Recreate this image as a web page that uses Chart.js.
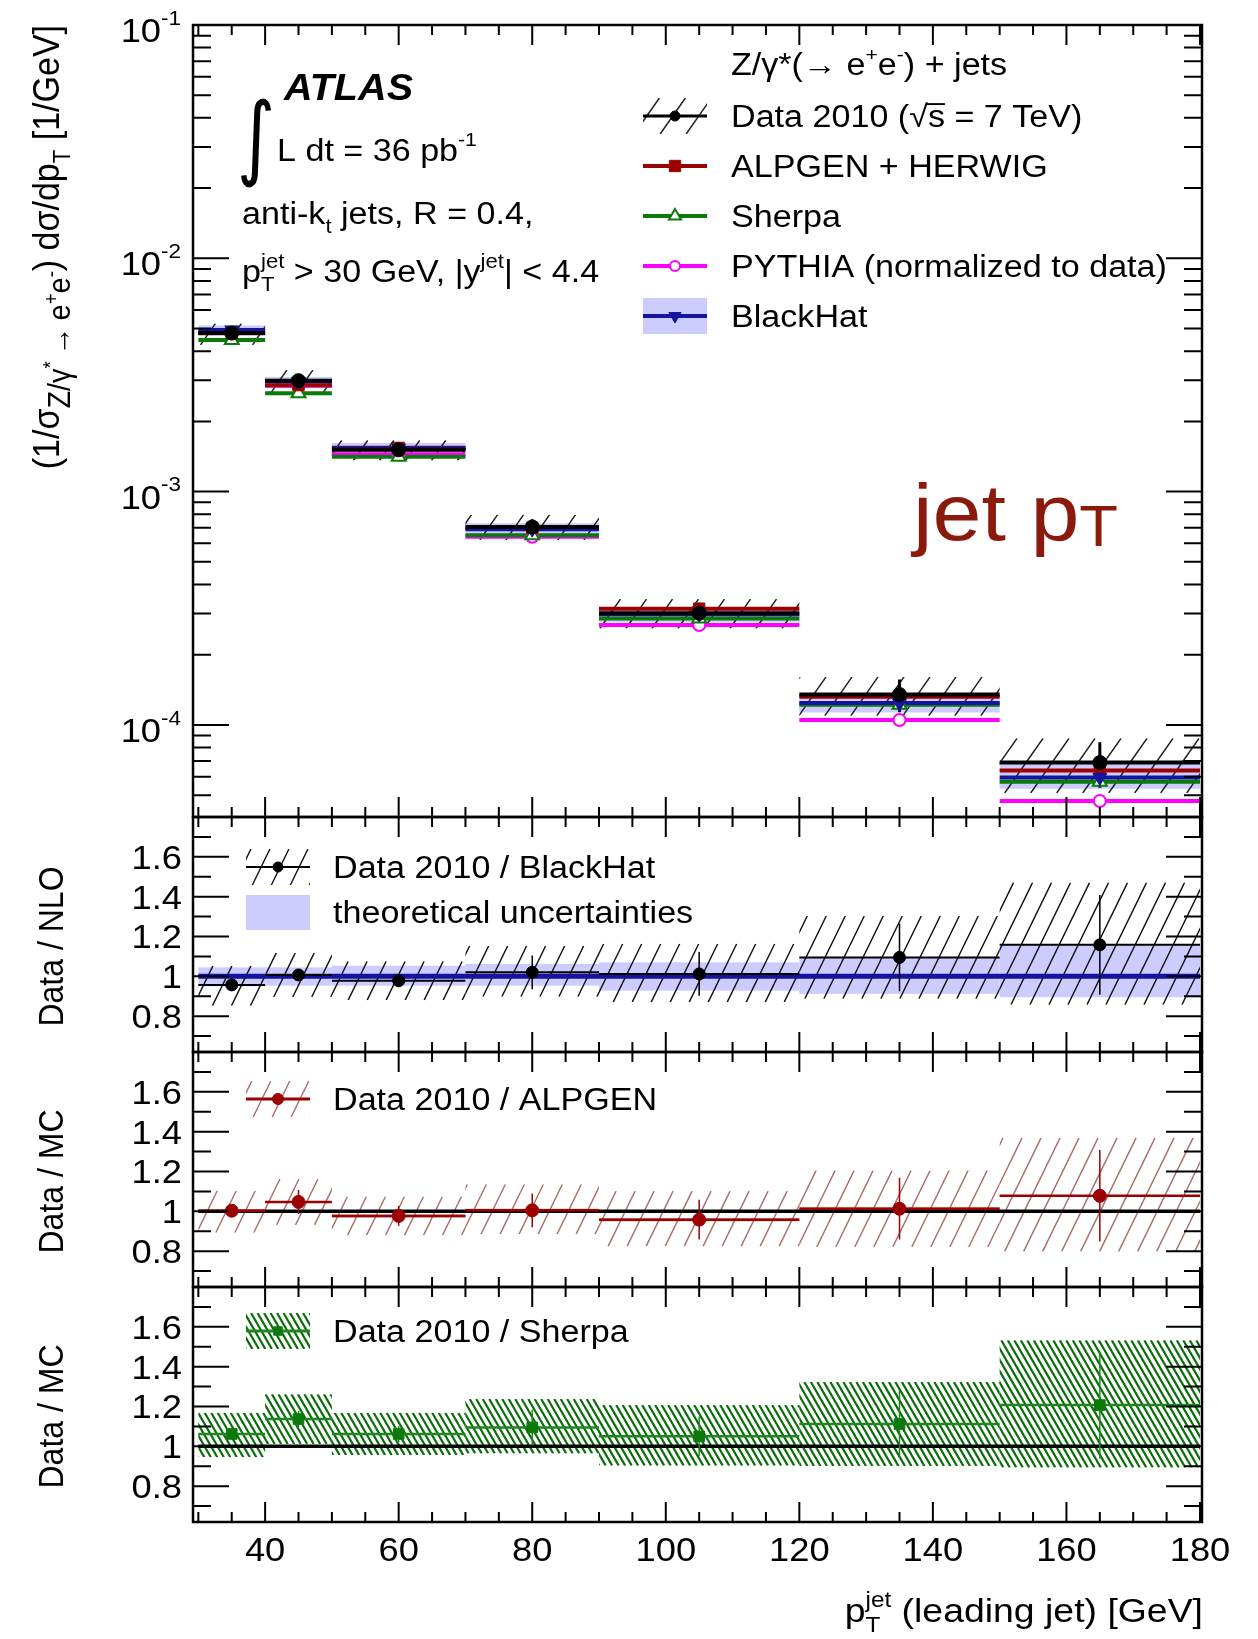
<!DOCTYPE html>
<html>
<head>
<meta charset="utf-8">
<title>Z/γ*(→ e+e-) + jets: leading jet pT</title>
<script src="https://cdn.jsdelivr.net/npm/chart.js@4.4.1/dist/chart.umd.min.js"></script>
<style>
html,body{margin:0;padding:0;background:#fff;}
#wrap{position:relative;width:1258px;height:1639px;overflow:hidden;background:#fff;}
#wrap canvas{position:absolute;left:0;top:0;}
</style>
</head>
<body>
<div id="wrap">
<canvas id="cMain" width="1258" height="1639"></canvas>
<canvas id="cNlo" width="1258" height="1639"></canvas>
<canvas id="cAlp" width="1258" height="1639"></canvas>
<canvas id="cShe" width="1258" height="1639"></canvas>
</div>
<script>
// ---- binning (leading jet pT, GeV) ----
const BIN_EDGES   = [30, 40, 50, 70, 90, 120, 150, 180];
const BIN_CENTERS = [35, 45, 60, 80, 105, 135, 165];
const X_LABELS    = [40, 60, 80, 100, 120, 140, 160, 180];

// ---- normalised cross section (1/sigma) dsigma/dpT [1/GeV] ----
const DATA      = [4.78e-3, 2.99e-3, 1.51e-3, 7.05e-4, 3.01e-4, 1.35e-4, 6.90e-5];
const DATA_STAT = [0.012, 0.025, 0.03, 0.08, 0.11, 0.16, 0.22];      // relative
const DATA_SYS_LO = [0.11, 0.11, 0.10, 0.12, 0.14, 0.19, 0.26];      // relative
const DATA_SYS_HI = [0.10, 0.11, 0.10, 0.13, 0.15, 0.19, 0.27];      // relative
const ALPGEN    = [4.77e-3, 2.86e-3, 1.54e-3, 7.00e-4, 3.15e-4, 1.32e-4, 6.38e-5];
const SHERPA    = [4.47e-3, 2.64e-3, 1.41e-3, 6.50e-4, 2.86e-4, 1.22e-4, 5.71e-5];
const PYTHIA    = [4.78e-3, 2.84e-3, 1.445e-3, 6.40e-4, 2.68e-4, 1.05e-4, 4.72e-5];
const BLACKHAT  = [4.93e-3, 2.97e-3, 1.535e-3, 6.90e-4, 2.98e-4, 1.24e-4, 5.95e-5];
const BH_UNC_LO = [0.050, 0.047, 0.047, 0.047, 0.072, 0.088, 0.105]; // relative
const BH_UNC_HI = [0.045, 0.045, 0.053, 0.062, 0.070, 0.095, 0.160]; // relative

// ---- ratio panels ----
const RATIO_NLO         = [0.957, 1.007, 0.978, 1.020, 1.012, 1.095, 1.158];
const RATIO_NLO_STAT    = [0.012, 0.025, 0.030, 0.085, 0.110, 0.170, 0.250];
const RATIO_ALPGEN      = [1.003, 1.047, 0.977, 1.005, 0.958, 1.013, 1.078];
const RATIO_ALPGEN_STAT = [0.025, 0.060, 0.050, 0.085, 0.100, 0.155, 0.230];
const ALPGEN_MC_STAT    = [0.004, 0.004, 0.008, 0.008, 0.008, 0.008, 0.004];
const RATIO_SHERPA      = [1.062, 1.137, 1.062, 1.095, 1.050, 1.112, 1.207];
const RATIO_SHERPA_STAT = [0.020, 0.040, 0.040, 0.090, 0.100, 0.170, 0.270];

// ---- axis tick labels ----
const MAIN_Y_EXPONENTS = [-1, -2, -3, -4];
const RATIO_Y_LABELS   = ['0.8', '1', '1.2', '1.4', '1.6'];

// ---- page geometry ----
const W = 1258, H = 1639;
const FRAME_L = 193, FRAME_R = 1202;
const X_MIN = 29.2, X_MAX = 180.3;
const PANEL_MAIN = [25, 817], PANEL_NLO = [817, 1052], PANEL_ALP = [1052, 1287], PANEL_SHE = [1287, 1522];
const MAIN_Y_MIN = 4.03e-5, MAIN_Y_MAX = 0.1;
const RATIO_MIN = 0.62, RATIO_MAX = 1.8;

const FONT = '"Liberation Sans", Arial, Helvetica, sans-serif';
const SX = 1.1; // horizontal text stretch

const C_DATA = '#000000', C_ALPGEN = '#9c0000', C_SHERPA = '#0b7a0b', C_PYTHIA = '#ff00ff';
const C_BH = '#14149e', C_BH_BAND = '#ccccff', C_JET = '#8b1a0c';
const C_SHERPA_LINE = '#1f861f';

const HATCH_MAIN = { gap: 26, ang: 55, color: '#222', lw: 1.5, dir: '/' };
const HATCH_NLO  = { gap: 19, ang: 64, color: '#111', lw: 1.4, dir: '/' };
const HATCH_ALP  = { gap: 19, ang: 64, color: '#a86e6a', lw: 1.4, dir: '/' };
const HATCH_SHE  = { gap: 6.5, ang: 60, color: '#0a6e0a', lw: 2.2, dir: '\\' };

// ---------- text helper (sub/superscripts, stacking, overline) ----------
function rich(ctx, parts, x, y, size, align, o) {
  o = o || {};
  const fam = o.family || FONT;
  ctx.save();
  ctx.translate(x, y);
  ctx.scale(o.sx || SX, 1);
  if (o.rot) ctx.rotate(o.rot);
  ctx.fillStyle = o.color || '#000';
  ctx.strokeStyle = o.color || '#000';
  ctx.textBaseline = 'alphabetic';
  ctx.textAlign = 'left';
  const items = parts.map(p => typeof p === 'string' ? { t: p } : p);
  let cx = 0, pend = 0;
  const lay = [];
  for (const it of items) {
    const fs = size * (it.s || 1);
    const font = [it.st || o.style || '', it.w || o.weight || '', fs + 'px', it.family || fam].filter(Boolean).join(' ');
    ctx.font = font;
    const wd = ctx.measureText(it.t).width + (it.pad || 0) * size;
    lay.push({ t: it.t, font, x: cx + (it.pad || 0) * size / 2, dy: (it.dy || 0) * size, wd, fs, over: it.over });
    if (it.nx) pend = Math.max(pend, wd);
    else { cx += Math.max(wd, pend); pend = 0; }
  }
  const total = cx + pend;
  const x0 = align === 'right' ? -total : align === 'center' ? -total / 2 : 0;
  for (const l of lay) {
    ctx.font = l.font;
    ctx.fillText(l.t, x0 + l.x, l.dy);
    if (l.over) {
      ctx.lineWidth = l.fs * 0.06;
      ctx.beginPath();
      ctx.moveTo(x0 + l.x - 1, l.dy - l.fs * 0.74);
      ctx.lineTo(x0 + l.x + l.wd, l.dy - l.fs * 0.74);
      ctx.stroke();
    }
  }
  ctx.restore();
}

function hatch(ctx, x0, y0, x1, y1, h) {
  if (y1 < y0) { const t = y0; y0 = y1; y1 = t; }
  ctx.save();
  ctx.beginPath(); ctx.rect(x0, y0, x1 - x0, y1 - y0); ctx.clip();
  ctx.strokeStyle = h.color; ctx.lineWidth = h.lw; ctx.lineCap = 'butt';
  const k = 1 / Math.tan(h.ang * Math.PI / 180);
  ctx.beginPath();
  if (h.dir === '\\') {
    const cMin = x0 - k * y1, cMax = x1 - k * y0;
    for (let c = Math.floor(cMin / h.gap) * h.gap; c <= cMax + h.gap; c += h.gap) {
      ctx.moveTo(c + k * y0, y0); ctx.lineTo(c + k * y1, y1);
    }
  } else {
    const cMin = x0 + k * y0, cMax = x1 + k * y1;
    for (let c = Math.floor(cMin / h.gap) * h.gap; c <= cMax + h.gap; c += h.gap) {
      ctx.moveTo(c - k * y0, y0); ctx.lineTo(c - k * y1, y1);
    }
  }
  ctx.stroke();
  ctx.restore();
}

function seg(ctx, x0, y0, x1, y1) { ctx.moveTo(x0, y0); ctx.lineTo(x1, y1); }

function marker(ctx, style, r, fill, stroke, bw, rot, x, y) {
  ctx.save();
  ctx.fillStyle = fill; ctx.strokeStyle = stroke; ctx.lineWidth = bw;
  Chart.helpers.drawPoint(ctx, { pointStyle: style, radius: r, rotation: rot || 0, borderWidth: bw }, x, y);
  ctx.restore();
}

// ---------- dataset builders ----------
function steps(vals) {
  const out = [];
  vals.forEach((v, i) => { out.push({ x: BIN_EDGES[i], y: v }, { x: BIN_EDGES[i + 1], y: v }, { x: BIN_EDGES[i + 1], y: null }); });
  return out;
}
function centers(vals) { return vals.map((v, i) => ({ x: BIN_CENTERS[i], y: v })); }
function errBars(vals, rel, absolute) {
  const out = [];
  vals.forEach((v, i) => {
    const d = absolute ? rel[i] : v * rel[i];
    out.push({ x: BIN_CENTERS[i], y: v - d }, { x: BIN_CENTERS[i], y: v + d }, { x: BIN_CENTERS[i], y: null });
  });
  return out;
}
function lineDS(data, color, width) {
  return { data, borderColor: color, borderWidth: width, pointRadius: 0, pointHoverRadius: 0, fill: false,
           tension: 0, borderCapStyle: 'butt', spanGaps: false };
}
function markerDS(data, style, r, fill, stroke, bw, rot) {
  return { data, showLine: false, pointStyle: style, pointRadius: r, pointHoverRadius: r,
           pointBackgroundColor: fill, pointBorderColor: stroke, pointBorderWidth: bw, pointRotation: rot || 0,
           borderColor: stroke, backgroundColor: fill };
}
function ordered(list) { return list.map((d, i) => Object.assign(d, { order: list.length - i })); }

// ---------- frame and ROOT-style inward ticks ----------
function frameTicks(chart, yMajor, yMinor, yMajLen, yMinLen) {
  const { ctx, chartArea: a } = chart;
  const xs = chart.scales.x, ys = chart.scales.y;
  ctx.save();
  ctx.strokeStyle = '#000'; ctx.lineWidth = 2;
  ctx.beginPath();
  for (let v = 30; v <= 180; v += 5) {
    const px = xs.getPixelForValue(v);
    const L = (v % 20 === 0) ? 20 : 10;
    seg(ctx, px, a.bottom, px, a.bottom - L);
    seg(ctx, px, a.top, px, a.top + L);
  }
  for (const v of yMajor) {
    const py = ys.getPixelForValue(v);
    seg(ctx, a.left, py, a.left + yMajLen, py);
    seg(ctx, a.right, py, a.right - yMajLen, py);
  }
  for (const v of yMinor) {
    const py = ys.getPixelForValue(v);
    seg(ctx, a.left, py, a.left + yMinLen, py);
    seg(ctx, a.right, py, a.right - yMinLen, py);
  }
  ctx.stroke();
  ctx.lineWidth = 2.5;
  ctx.strokeRect(a.left, a.top, a.right - a.left, a.bottom - a.top);
  ctx.restore();
}

function binPix(chart, i) {
  const xs = chart.scales.x;
  return [xs.getPixelForValue(BIN_EDGES[i]), xs.getPixelForValue(BIN_EDGES[i + 1])];
}
function clipArea(chart) {
  const { ctx, chartArea: a } = chart;
  ctx.save(); ctx.beginPath(); ctx.rect(a.left, a.top, a.right - a.left, a.bottom - a.top); ctx.clip();
}

function makeChart(id, panel, yScale, datasets, before, after) {
  return new Chart(document.getElementById(id), {
    type: 'line',
    data: { datasets },
    options: {
      responsive: false, animation: false, events: [],
      layout: { padding: { left: FRAME_L, right: W - FRAME_R, top: panel[0], bottom: H - panel[1] } },
      plugins: { legend: { display: false }, tooltip: { enabled: false } },
      scales: {
        x: { type: 'linear', min: X_MIN, max: X_MAX, display: false },
        y: Object.assign({ display: false }, yScale)
      }
    },
    plugins: [{ id: 'panel_' + id, beforeDatasetsDraw: before, afterDraw: after }]
  });
}

const RATIO_MAJOR = [0.8, 1.0, 1.2, 1.4, 1.6];
const RATIO_MINOR = [0.7, 0.9, 1.1, 1.3, 1.5, 1.7];

function ratioLabels(chart) {
  const ys = chart.scales.y;
  const ctx = chart.ctx;
  RATIO_MAJOR.forEach((v, i) => rich(ctx, [RATIO_Y_LABELS[i]], 182, ys.getPixelForValue(v) + 12, 33, 'right'));
}

// ================= main panel =================
const mainMajor = [1e-1, 1e-2, 1e-3, 1e-4];
const mainMinor = [];
for (let e = -5; e <= -2; e++) for (let k = 2; k <= 9; k++) {
  const v = k * Math.pow(10, e);
  if (v > MAIN_Y_MIN && v < MAIN_Y_MAX) mainMinor.push(v);
}

makeChart('cMain', PANEL_MAIN, { type: 'logarithmic', min: MAIN_Y_MIN, max: MAIN_Y_MAX },
  ordered([
    lineDS(steps(PYTHIA), C_PYTHIA, 4),
    lineDS(steps(SHERPA), C_SHERPA, 4),
    lineDS(steps(ALPGEN), C_ALPGEN, 4),
    lineDS(steps(BLACKHAT), C_BH, 4),
    lineDS(steps(DATA), C_DATA, 4),
    lineDS(errBars(DATA, DATA_STAT), C_DATA, 3),
    markerDS(centers(PYTHIA), 'circle', 6, '#fff', C_PYTHIA, 2),
    markerDS(centers(SHERPA), 'triangle', 8, '#fff', C_SHERPA, 2),
    markerDS(centers(ALPGEN), 'rect', 8, C_ALPGEN, C_ALPGEN, 1),
    markerDS(centers(BLACKHAT), 'triangle', 8, C_BH, C_BH, 1, 180),
    markerDS(centers(DATA), 'circle', 7, C_DATA, C_DATA, 1)
  ]),
  (chart) => {
    const ctx = chart.ctx, ys = chart.scales.y;
    clipArea(chart);
    ctx.fillStyle = C_BH_BAND;
    BLACKHAT.forEach((v, i) => {
      const [xl, xr] = binPix(chart, i);
      const yt = ys.getPixelForValue(v * (1 + BH_UNC_HI[i])), yb = ys.getPixelForValue(v * (1 - BH_UNC_LO[i]));
      ctx.fillRect(xl, yt, xr - xl, yb - yt);
    });
    DATA.forEach((v, i) => {
      const [xl, xr] = binPix(chart, i);
      hatch(ctx, xl, ys.getPixelForValue(v * (1 + DATA_SYS_HI[i])), xr, ys.getPixelForValue(v * (1 - DATA_SYS_LO[i])), HATCH_MAIN);
    });
    ctx.restore();
  },
  (chart) => {
    const ctx = chart.ctx, ys = chart.scales.y;
    frameTicks(chart, mainMajor, mainMinor, 36, 18);
    MAIN_Y_EXPONENTS.forEach((e, i) => {
      rich(ctx, ['10', { t: String(e), s: 0.62, dy: -0.52 }], 181, ys.getPixelForValue(mainMajor[i]) + 17, 33, 'right');
    });
    // y-axis title
    rich(ctx, ['(1/σ',
               { t: 'Z/γ', s: 0.85, dy: 0.3 }, { t: '*', s: 0.55, dy: -0.05 },
               { t: '→', s: 0.85, dy: 0.3, pad: 0.35 },
               { t: 'e', s: 0.85, dy: 0.3 }, { t: '+', s: 0.55, dy: -0.02 },
               { t: 'e', s: 0.85, dy: 0.3 }, { t: '-', s: 0.55, dy: -0.02 },
               ') dσ/dp', { t: 'T', s: 0.65, dy: 0.3 }, ' [1/GeV]'],
         59, 25, 34, 'right', { rot: -Math.PI / 2 });
    // labels
    rich(ctx, ['ATLAS'], 284, 100, 36, 'left', { style: 'italic', weight: 'bold' });
    rich(ctx, ['∫'], 237, 168, 92, 'left', { family: '"DejaVu Sans", sans-serif', sx: 0.8 });
    rich(ctx, ['L dt = 36 pb', { t: '-1', s: 0.62, dy: -0.5 }], 277, 161, 31, 'left');
    rich(ctx, ['anti-k', { t: 't', s: 0.65, dy: 0.28 }, ' jets, R = 0.4,'], 242, 224, 31, 'left');
    rich(ctx, ['p', { t: 'T', s: 0.65, dy: 0.3, nx: true }, { t: 'jet', s: 0.65, dy: -0.45 },
               ' > 30 GeV, |y', { t: 'jet', s: 0.65, dy: -0.45 }, '| < 4.4'], 242, 282, 31, 'left');
    rich(ctx, ['jet p', { t: 'T', s: 0.72, dy: 0.08 }], 913, 540, 80, 'left', { color: C_JET });
    // legend
    const lx0 = 643, lx1 = 707, lxc = 675, tx = 731;
    rich(ctx, ['Z/γ*(', { t: '→', family: FONT }, ' e', { t: '+', s: 0.62, dy: -0.45 }, 'e', { t: '-', s: 0.62, dy: -0.45 }, ') + jets'], tx, 75, 31, 'left');
    // Data
    hatch(ctx, lx0, 98, lx1, 134, HATCH_MAIN);
    ctx.save(); ctx.strokeStyle = C_DATA; ctx.lineWidth = 3; ctx.beginPath(); seg(ctx, lx0, 116, lx1, 116); ctx.stroke(); ctx.restore();
    marker(ctx, 'circle', 5, C_DATA, C_DATA, 1, 0, lxc, 116);
    rich(ctx, ['Data 2010 (', '√', { t: 's', over: true }, ' = 7 TeV)'], tx, 127, 31, 'left');
    // ALPGEN
    ctx.save(); ctx.strokeStyle = C_ALPGEN; ctx.lineWidth = 4; ctx.beginPath(); seg(ctx, lx0, 166, lx1, 166); ctx.stroke(); ctx.restore();
    marker(ctx, 'rect', 8, C_ALPGEN, C_ALPGEN, 1, 0, lxc, 166);
    rich(ctx, ['ALPGEN + HERWIG'], tx, 177, 31, 'left');
    // Sherpa
    ctx.save(); ctx.strokeStyle = C_SHERPA; ctx.lineWidth = 4; ctx.beginPath(); seg(ctx, lx0, 216, lx1, 216); ctx.stroke(); ctx.restore();
    marker(ctx, 'triangle', 7, '#fff', C_SHERPA, 2, 0, lxc, 216);
    rich(ctx, ['Sherpa'], tx, 227, 31, 'left');
    // PYTHIA
    ctx.save(); ctx.strokeStyle = C_PYTHIA; ctx.lineWidth = 4; ctx.beginPath(); seg(ctx, lx0, 266, lx1, 266); ctx.stroke(); ctx.restore();
    marker(ctx, 'circle', 5, '#fff', C_PYTHIA, 2, 0, lxc, 266);
    rich(ctx, ['PYTHIA (normalized to data)'], tx, 277, 31, 'left');
    // BlackHat
    ctx.save(); ctx.fillStyle = C_BH_BAND; ctx.fillRect(lx0, 298, lx1 - lx0, 36);
    ctx.strokeStyle = C_BH; ctx.lineWidth = 4; ctx.beginPath(); seg(ctx, lx0, 316, lx1, 316); ctx.stroke(); ctx.restore();
    marker(ctx, 'triangle', 7, C_BH, C_BH, 1, 180, lxc, 316);
    rich(ctx, ['BlackHat'], tx, 327, 31, 'left');
  }
);

// ================= Data / NLO =================
makeChart('cNlo', PANEL_NLO, { type: 'linear', min: RATIO_MIN, max: RATIO_MAX },
  ordered([
    lineDS([{ x: 30, y: 1 }, { x: 180, y: 1 }], C_BH, 5),
    lineDS(steps(RATIO_NLO), C_DATA, 2),
    lineDS(errBars(RATIO_NLO, RATIO_NLO_STAT, true), C_DATA, 1.5),
    markerDS(centers(RATIO_NLO), 'circle', 6, C_DATA, C_DATA, 1)
  ]),
  (chart) => {
    const ctx = chart.ctx, ys = chart.scales.y;
    clipArea(chart);
    ctx.fillStyle = C_BH_BAND;
    BH_UNC_LO.forEach((lo, i) => {
      const [xl, xr] = binPix(chart, i);
      const yt = ys.getPixelForValue(1 + BH_UNC_HI[i]), yb = ys.getPixelForValue(1 - lo);
      ctx.fillRect(xl, yt, xr - xl, yb - yt);
    });
    RATIO_NLO.forEach((v, i) => {
      const [xl, xr] = binPix(chart, i);
      hatch(ctx, xl, ys.getPixelForValue(v * (1 + DATA_SYS_HI[i])), xr, ys.getPixelForValue(v * (1 - DATA_SYS_LO[i])), HATCH_NLO);
    });
    ctx.restore();
  },
  (chart) => {
    const ctx = chart.ctx;
    frameTicks(chart, RATIO_MAJOR, RATIO_MINOR, 36, 18);
    ratioLabels(chart);
    rich(ctx, ['Data / NLO'], 63, (PANEL_NLO[0] + PANEL_NLO[1]) / 2 + 12, 32, 'center', { rot: -Math.PI / 2 });
    hatch(ctx, 246, 849, 310, 885, HATCH_NLO);
    ctx.save(); ctx.strokeStyle = C_DATA; ctx.lineWidth = 2; ctx.beginPath(); seg(ctx, 246, 867, 310, 867); ctx.stroke(); ctx.restore();
    marker(ctx, 'circle', 5, C_DATA, C_DATA, 1, 0, 278, 867);
    rich(ctx, ['Data 2010 / BlackHat'], 333, 878, 31, 'left');
    ctx.save(); ctx.fillStyle = C_BH_BAND; ctx.fillRect(246, 895, 64, 35); ctx.restore();
    rich(ctx, ['theoretical uncertainties'], 333, 923, 31, 'left');
  }
);

// ================= Data / ALPGEN =================
makeChart('cAlp', PANEL_ALP, { type: 'linear', min: RATIO_MIN, max: RATIO_MAX },
  ordered([
    lineDS([{ x: 30, y: 1 }, { x: 180, y: 1 }], C_DATA, 3.5),
    lineDS(steps(RATIO_ALPGEN), C_ALPGEN, 2.5),
    lineDS(errBars(RATIO_ALPGEN, RATIO_ALPGEN_STAT, true), C_ALPGEN, 1.5),
    markerDS(centers(RATIO_ALPGEN), 'circle', 6.5, C_ALPGEN, C_ALPGEN, 1)
  ]),
  (chart) => {
    const ctx = chart.ctx, ys = chart.scales.y;
    clipArea(chart);
    RATIO_ALPGEN.forEach((v, i) => {
      const [xl, xr] = binPix(chart, i);
      hatch(ctx, xl, ys.getPixelForValue(v * (1 + DATA_SYS_HI[i])), xr, ys.getPixelForValue(v * (1 - DATA_SYS_LO[i])), HATCH_ALP);
    });
    ctx.fillStyle = 'rgba(176, 70, 70, 0.55)';
    RATIO_ALPGEN.forEach((v, i) => {
      const [xl, xr] = binPix(chart, i);
      const yt = ys.getPixelForValue(v + ALPGEN_MC_STAT[i]), yb = ys.getPixelForValue(v - ALPGEN_MC_STAT[i]);
      ctx.fillRect(xl, yt, xr - xl, yb - yt);
    });
    ctx.restore();
  },
  (chart) => {
    const ctx = chart.ctx;
    frameTicks(chart, RATIO_MAJOR, RATIO_MINOR, 36, 18);
    ratioLabels(chart);
    rich(ctx, ['Data / MC'], 63, (PANEL_ALP[0] + PANEL_ALP[1]) / 2 + 12, 32, 'center', { rot: -Math.PI / 2 });
    hatch(ctx, 246, 1081, 310, 1117, HATCH_ALP);
    ctx.save(); ctx.strokeStyle = C_ALPGEN; ctx.lineWidth = 3; ctx.beginPath(); seg(ctx, 246, 1099, 310, 1099); ctx.stroke(); ctx.restore();
    marker(ctx, 'circle', 5.5, C_ALPGEN, C_ALPGEN, 1, 0, 278, 1099);
    rich(ctx, ['Data 2010 / ALPGEN'], 333, 1110, 31, 'left');
  }
);

// ================= Data / Sherpa =================
makeChart('cShe', PANEL_SHE, { type: 'linear', min: RATIO_MIN, max: RATIO_MAX },
  ordered([
    lineDS([{ x: 30, y: 1 }, { x: 180, y: 1 }], C_DATA, 3.5),
    lineDS(steps(RATIO_SHERPA), C_SHERPA_LINE, 2.5),
    lineDS(errBars(RATIO_SHERPA, RATIO_SHERPA_STAT, true), C_SHERPA_LINE, 1.5),
    markerDS(centers(RATIO_SHERPA), 'rect', 7.5, C_SHERPA, C_SHERPA, 1)
  ]),
  (chart) => {
    const ctx = chart.ctx, ys = chart.scales.y;
    clipArea(chart);
    RATIO_SHERPA.forEach((v, i) => {
      const [xl, xr] = binPix(chart, i);
      hatch(ctx, xl, ys.getPixelForValue(v * (1 + DATA_SYS_HI[i])), xr, ys.getPixelForValue(v * (1 - DATA_SYS_LO[i])), HATCH_SHE);
    });
    ctx.restore();
  },
  (chart) => {
    const ctx = chart.ctx, xs = chart.scales.x;
    frameTicks(chart, RATIO_MAJOR, RATIO_MINOR, 36, 18);
    ratioLabels(chart);
    rich(ctx, ['Data / MC'], 63, (PANEL_SHE[0] + PANEL_SHE[1]) / 2 + 12, 32, 'center', { rot: -Math.PI / 2 });
    hatch(ctx, 246, 1313, 310, 1349, HATCH_SHE);
    ctx.save(); ctx.strokeStyle = C_SHERPA_LINE; ctx.lineWidth = 3; ctx.beginPath(); seg(ctx, 246, 1331, 310, 1331); ctx.stroke(); ctx.restore();
    marker(ctx, 'rect', 6, C_SHERPA, C_SHERPA, 1, 0, 278, 1331);
    rich(ctx, ['Data 2010 / Sherpa'], 333, 1342, 31, 'left');
    // x axis labels and title
    X_LABELS.forEach(v => rich(ctx, [String(v)], xs.getPixelForValue(v), 1561, 33, 'center'));
    rich(ctx, ['p', { t: 'T', s: 0.65, dy: 0.3, nx: true }, { t: 'jet', s: 0.65, dy: -0.45 }, ' (leading jet) [GeV]'],
         1203, 1622, 34, 'right');
  }
);
</script>
</body>
</html>
